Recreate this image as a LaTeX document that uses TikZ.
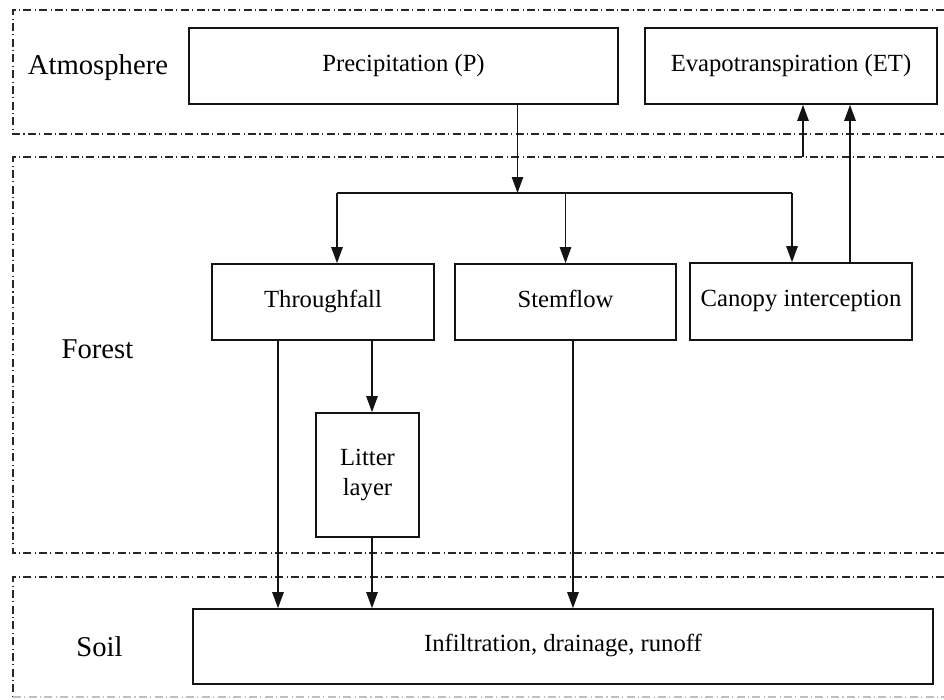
\documentclass[tikz,border=0pt]{standalone}
\usepackage{fontspec}
\setmainfont{Liberation Serif}
\usepackage{tikz}
\usetikzlibrary{arrows.meta, positioning, calc}
\usepackage{xcolor}
\definecolor{hyline}{RGB}{20,20,20}
\definecolor{hyzone}{RGB}{40,40,40}
\tikzset{
    box/.style={draw=hyline, line width=1.2pt, fill=white, align=center, inner sep=0pt,
                text height=0.95em, text depth=0.2em,
                font=\fontsize{18.5}{23}\selectfont},
    zone/.style={draw=hyzone, line width=1.1pt, dash pattern=on 6pt off 2.5pt on 0.8pt off 2.5pt},
    zonelbl/.style={font=\fontsize{21.5}{26}\selectfont},
    arrow/.style={-{Triangle[length=12pt, width=8.5pt]}, line width=1.2pt, hyline},
    link/.style={line width=1.2pt, hyline},
}

\begin{document}
\begin{tikzpicture}[x=0.75pt, y=-0.75pt]
                \useasboundingbox (0,0) rectangle (944,699);
                % layers
                \draw[zone] (944,10) -| (13,134) -- (944,134);
                \draw[zone] (944,157) -| (13,553) -- (944,553);
                \draw[zone] (944,577) -| (13,697);
                \draw[zone, draw=black!25] (13,697) -- (944,697);
                \node[zonelbl] (atm) at (98,68) {Atmosphere};
                \node[zonelbl] (forest) at (97.5,349) {Forest};
                \node[zonelbl] (soil) at (99.5,647) {Soil};
                % flux boxes
                \node[box, minimum width=321.75pt, minimum height=57pt] (prec) at (403.5,66) {Precipitation (P)};
                \node[box, minimum width=219pt, minimum height=57pt] (et) at (791,66) {Evapotranspiration (ET)};
                \node[box, minimum width=166.5pt, minimum height=57pt] (thru) at (323,302) {Throughfall};
                \node[box, minimum width=165.75pt, minimum height=57pt] (stem) at (565.5,302) {Stemflow};
                \node[box, minimum width=166.5pt, minimum height=57.75pt] (canopy) at (801,301.5) {Canopy interception};
                \node[box, text height=, text depth=, minimum width=77.25pt, minimum height=93pt] (litter) at (367.5,475) {Litter\\layer};
                \node[box, minimum width=555pt, minimum height=56.25pt] (infil) at (563,646.5) {Infiltration, drainage, runoff};
                % split points
                \coordinate (split) at ([xshift=85.5pt]prec.south |- 0,193);
                \coordinate (splitL) at (337,193);
                \coordinate (splitR) at (792,193);
                \coordinate (dropA) at ([xshift=-33.75pt]thru.south);
                \coordinate (dropB) at ([xshift=36.75pt]thru.south);
                \coordinate (dropS) at ([xshift=5.6pt]stem.south);
                \coordinate (rise) at ([xshift=36.75pt]canopy.north);
                \coordinate (etin) at (803,157);
                % connectors
                \draw[arrow] (prec.south -| split) -- (split);
                \draw[link] (splitL) -- (splitR);
                \draw[arrow] (splitL) -- (splitL |- thru.north);
                \draw[arrow] (stem.north |- split) -- (stem.north);
                \draw[arrow] (splitR) -- (splitR |- canopy.north);
                \draw[arrow] (dropA) -- (dropA |- infil.north);
                \draw[arrow] (dropB) -- (dropB |- litter.north);
                \draw[arrow] (dropB |- litter.south) -- (dropB |- infil.north);
                \draw[arrow] (dropS) -- (dropS |- infil.north);
                \draw[arrow] (rise) -- (rise |- et.south);
                \draw[arrow] (etin) -- (etin |- et.south);
            \end{tikzpicture}
\end{document}
